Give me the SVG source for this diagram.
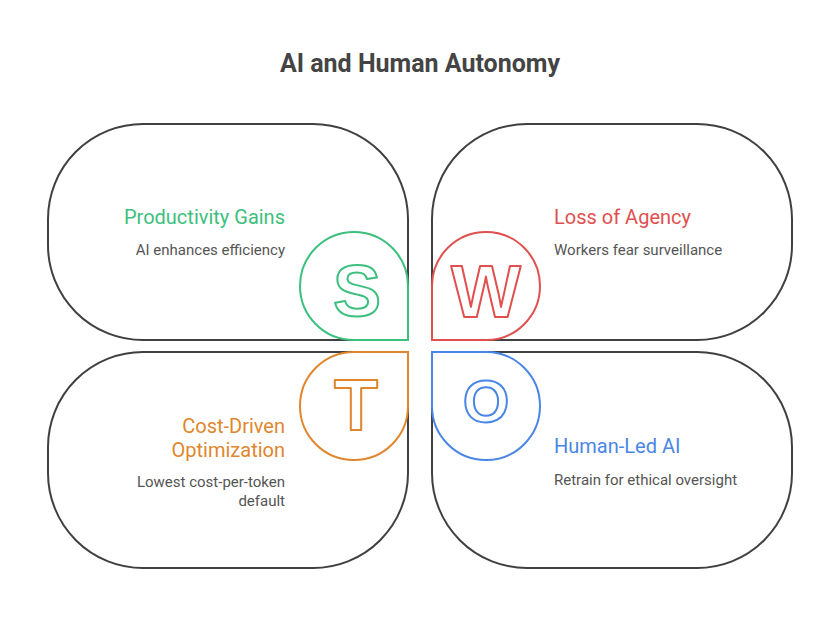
<svg xmlns="http://www.w3.org/2000/svg" width="840" height="640" viewBox="0 0 840 640">
<style>
.card{fill:#fff;stroke:#404040;stroke-width:2}
.drop{fill:#fff;stroke-width:2}
.let{fill:#fff;stroke-width:2;stroke-linejoin:round;font-family:"Liberation Sans",Arial,sans-serif;font-weight:bold;text-anchor:middle}
.title{font-family:Roboto,"Liberation Sans",sans-serif;font-weight:bold;font-size:25px;fill:#444;text-anchor:middle}
.h{font-family:Roboto,"Liberation Sans",sans-serif;font-size:20px}
.d{font-family:Roboto,"Liberation Sans",sans-serif;font-size:15px;fill:#555}
.r{text-anchor:end}
</style>
<rect width="840" height="640" fill="#fff"/>
<text class="title" x="420" y="72">AI and Human Autonomy</text>
<g id="strengths">
<path class="card" d="M408 340H143A95 95 0 0 1 48 245V219A95 95 0 0 1 143 124H313A95 95 0 0 1 408 219Z"/>
<path class="drop" stroke="#3dbf7d" d="M408 286V340H354A54 54 0 1 1 408 286Z"/>
<text class="let" stroke="#3dbf7d" x="357" y="316" font-size="72">S</text>
<text class="h r" fill="#3dbf7d" x="285" y="224">Productivity Gains</text>
<text class="d r" x="285" y="255">AI enhances efficiency</text>
</g>
<g id="weaknesses">
<path class="card" d="M432 340V219A95 95 0 0 1 527 124H697A95 95 0 0 1 792 219V245A95 95 0 0 1 697 340Z"/>
<path class="drop" stroke="#e0504f" d="M432 286V340H486A54 54 0 1 0 432 286Z"/>
<text class="let" stroke="#e0504f" x="486" y="317" font-size="74">W</text>
<text class="h" fill="#e0504f" x="554" y="224">Loss of Agency</text>
<text class="d" x="554" y="255">Workers fear surveillance</text>
</g>
<g id="threats">
<path class="card" d="M408 352V473A95 95 0 0 1 313 568H143A95 95 0 0 1 48 473V447A95 95 0 0 1 143 352Z"/>
<path class="drop" stroke="#e0862e" d="M354 352H408V406A54 54 0 1 1 354 352Z"/>
<text class="let" stroke="#e0862e" x="356" y="430" font-size="72">T</text>
<text class="h r" fill="#e0862e" x="285" y="433">Cost-Driven</text>
<text class="h r" fill="#e0862e" x="285" y="457">Optimization</text>
<text class="d r" x="285" y="487">Lowest cost-per-token</text>
<text class="d r" x="285" y="506">default</text>
</g>
<g id="opportunities">
<path class="card" d="M432 352H697A95 95 0 0 1 792 447V473A95 95 0 0 1 697 568H527A95 95 0 0 1 432 473Z"/>
<path class="drop" stroke="#4a86e6" d="M486 352H432V406A54 54 0 1 0 486 352Z"/>
<text class="let" stroke="#4a86e6" x="486" y="422" font-size="60">O</text>
<text class="h" fill="#4a86e6" x="554" y="453">Human-Led AI</text>
<text class="d" x="554" y="485">Retrain for ethical oversight</text>
</g>
<g id="connectors"></g>
</svg>
